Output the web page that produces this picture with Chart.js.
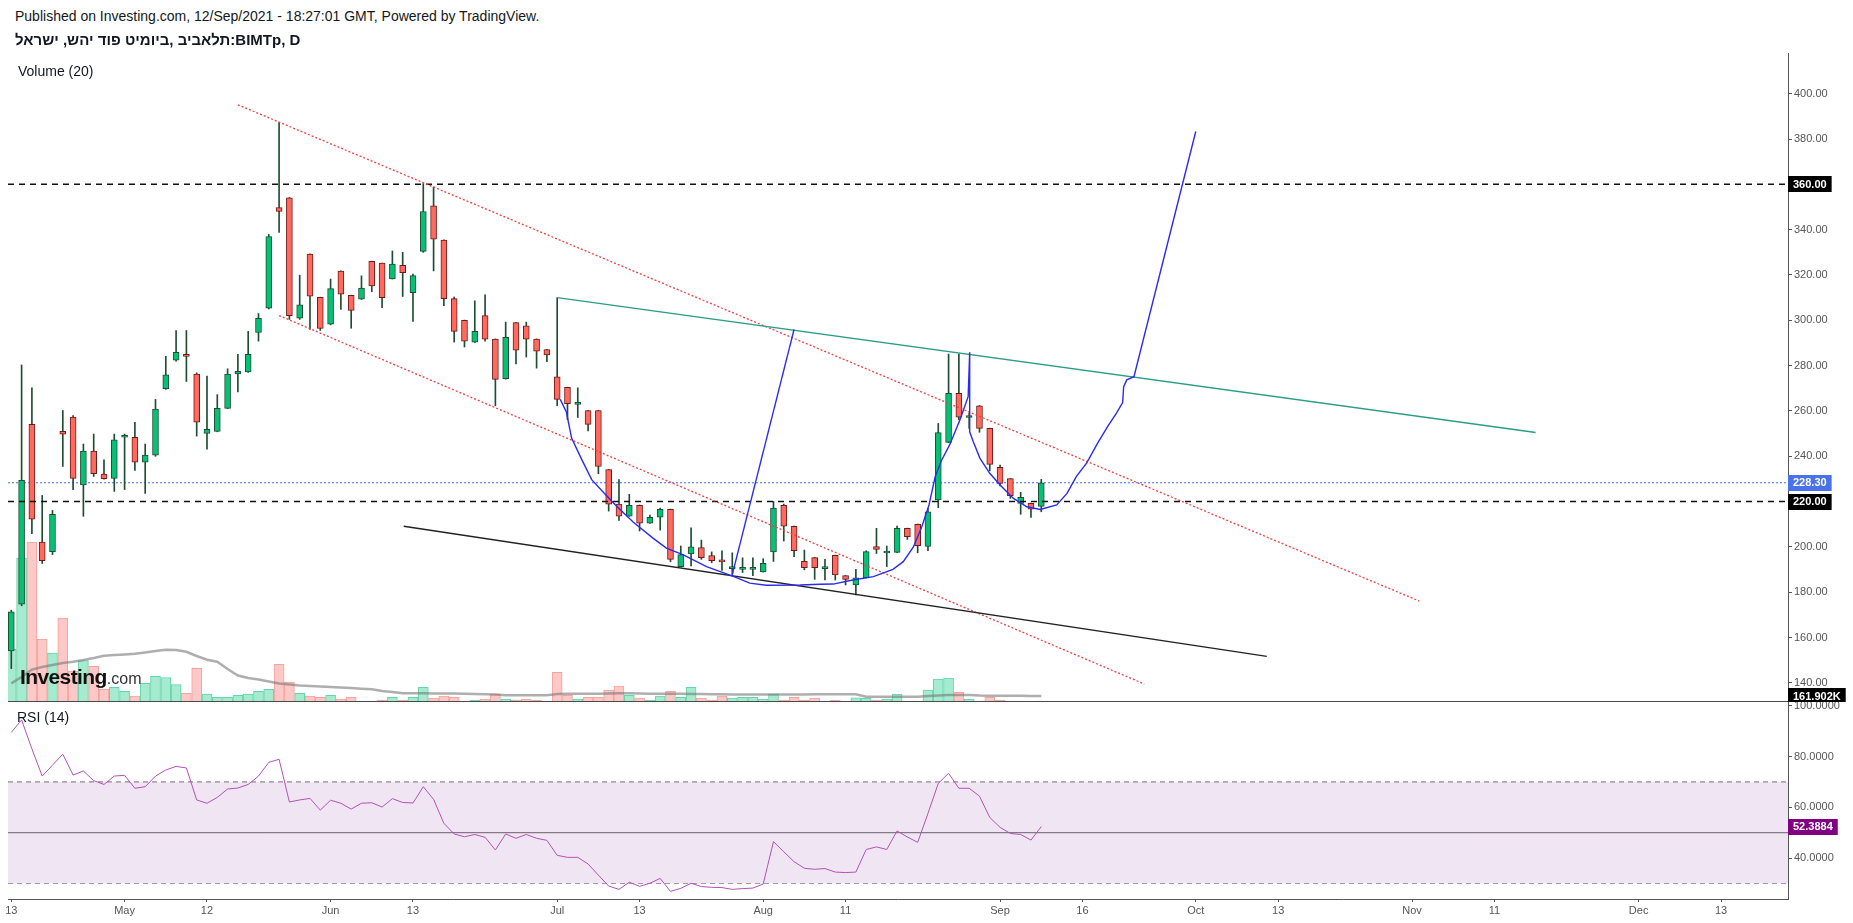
<!DOCTYPE html>
<html>
<head>
<meta charset="utf-8">
<title>BIMTp, D</title>
<script src="https://cdn.jsdelivr.net/npm/chart.js@4.4.1/dist/chart.umd.min.js"></script>
<style>
  html, body { margin: 0; padding: 0; background: #fff; }
  body { width: 1853px; height: 923px; position: relative; overflow: hidden;
         font-family: "Liberation Sans", Arial, "DejaVu Sans", sans-serif; color: #131722; }
  .txt { position: absolute; white-space: nowrap; z-index: 3; }
  #hdr1 { left: 15px; top: 8px; font-size: 14px; line-height: 16px; }
  #hdr2 { left: 15px; top: 31px; font-size: 15px; line-height: 17px; font-weight: bold; }
  #volTitle { left: 18px; top: 63px; font-size: 14px; line-height: 16px; }
  #rsiTitle { left: 17px; top: 709px; font-size: 14px; line-height: 16px; }
  #logo { left: 20px; top: 664px; line-height: 26px; }
  #logo b { font-size: 21px; letter-spacing: -0.6px; color: #111; }
  #logo span { font-size: 16px; color: #333; }
  #mainWrap { position: absolute; left: 0; top: 53px; width: 1853px; height: 649px; }
  #rsiWrap { position: absolute; left: 0; top: 702px; width: 1853px; height: 221px; }
  #sep { position: absolute; left: 8px; top: 701px; width: 1780px; height: 1px; background: #4a4a4a; z-index: 4; }
</style>
</head>
<body>
<div class="txt" id="hdr1">Published on Investing.com, 12/Sep/2021 - 18:27:01 GMT, Powered by TradingView.</div>
<div class="txt" id="hdr2"><span dir="rtl">ביומיט פוד יהש, ישראל</span>, <bdi>תלאביב</bdi>:BIMTp, D</div>
<div class="txt" id="volTitle">Volume (20)</div>
<div class="txt" id="rsiTitle">RSI (14)</div>
<div class="txt" id="logo"><b>Investing</b><span>.com</span></div>
<div id="mainWrap"><canvas id="mainChart" width="1853" height="649"></canvas></div>
<div id="rsiWrap"><canvas id="rsiChart" width="1853" height="221"></canvas></div>
<div id="sep"></div>

<script>
// daily bars from 13 Apr 2021 to 12 Sep 2021, x = bar index
const opens = [154.1, 174.7, 254.1, 202.1, 197.9, 251.0, 257.3, 227.4, 242.3, 232.1,
  230.2, 248.4, 248.4, 237.4, 240.5, 269.8, 282.4, 285.0, 276.3, 250.1,
  251.0, 261.1, 276.3, 277.2, 294.6, 305.3, 349.7, 354.1, 300.9, 329.2,
  310.1, 298.3, 321.7, 311.0, 309.3, 326.0, 325.2, 318.3, 324.3, 312.2,
  330.4, 350.5, 335.4, 309.6, 300.0, 290.3, 302.1, 291.7, 274.2, 299.0,
  297.6, 291.7, 287.1, 275.1, 270.4, 262.9, 260.2, 260.2, 234.1, 218.9,
  213.6, 218.4, 210.5, 213.1, 216.6, 191.3, 196.9, 199.7, 196.2, 193.6,
  190.4, 190.1, 190.1, 189.0, 197.8, 218.4, 209.1, 193.6, 195.3, 190.4,
  196.3, 187.3, 183.2, 186.4, 200.2, 197.3, 197.6, 208.2, 210.0, 200.2,
  220.7, 246.1, 267.8, 257.1, 262.3, 252.3, 235.1, 230.1, 219.2, 219.2, 217.9];
const highs = [172.1, 280.3, 270.2, 222.7, 216.1, 260.2, 258.0, 245.4, 249.8, 238.4,
  249.8, 249.8, 255.0, 245.4, 265.1, 284.1, 295.5, 295.5, 276.8, 275.4,
  267.2, 278.6, 285.0, 295.1, 303.0, 337.9, 387.3, 354.2, 319.9, 329.3,
  310.2, 318.2, 321.8, 311.1, 319.6, 326.1, 325.3, 330.6, 330.0, 320.4,
  360.4, 358.8, 335.5, 310.3, 300.1, 308.6, 311.2, 291.8, 299.2, 299.1,
  299.2, 291.8, 287.2, 310.0, 270.5, 270.2, 260.3, 260.3, 234.2, 229.7,
  223.2, 218.5, 214.0, 217.1, 216.7, 200.4, 208.4, 203.0, 197.8, 198.3,
  197.4, 195.2, 195.2, 194.8, 220.1, 218.9, 209.2, 198.6, 195.4, 194.5,
  196.4, 187.4, 190.1, 198.3, 208.2, 200.4, 209.2, 208.3, 210.1, 217.0,
  254.5, 285.1, 285.1, 259.0, 262.4, 252.4, 236.1, 230.2, 224.1, 219.3, 229.8];
const lows = [146.3, 174.0, 205.8, 192.7, 196.6, 235.5, 225.3, 213.5, 231.1, 229.9,
  224.5, 225.3, 233.7, 223.6, 240.0, 269.5, 282.0, 273.0, 248.9, 243.1,
  250.8, 261.0, 268.4, 277.0, 290.8, 305.0, 338.8, 300.4, 300.4, 296.0,
  295.5, 298.0, 304.8, 296.5, 309.2, 312.6, 305.6, 318.2, 310.5, 299.5,
  330.0, 321.8, 306.5, 290.4, 288.2, 290.2, 290.8, 262.3, 274.0, 280.7,
  283.8, 278.9, 281.7, 262.3, 256.2, 257.1, 251.2, 232.3, 215.8, 211.7,
  213.5, 207.0, 210.4, 207.4, 193.4, 191.2, 191.6, 194.5, 193.0, 189.6,
  187.8, 188.7, 187.3, 188.9, 193.6, 202.6, 195.7, 189.9, 185.7, 185.4,
  185.4, 183.2, 178.8, 186.3, 197.1, 191.3, 197.5, 203.3, 197.4, 198.3,
  217.3, 246.0, 256.0, 252.3, 250.6, 233.6, 226.9, 221.4, 214.4, 213.0, 215.5];
const closes = [171.3, 229.4, 212.2, 193.9, 214.4, 249.8, 230.2, 242.3, 232.3, 230.1,
  247.2, 248.8, 237.4, 240.5, 260.8, 275.9, 285.9, 284.1, 255.0, 251.9,
  261.1, 276.3, 277.5, 285.0, 300.9, 337.0, 348.0, 302.1, 306.8, 310.7,
  296.4, 314.0, 311.5, 304.4, 314.2, 315.2, 310.0, 324.8, 321.0, 319.7,
  348.0, 335.8, 309.6, 295.1, 290.8, 295.1, 291.7, 273.9, 292.5, 286.8,
  291.7, 286.4, 284.7, 265.1, 263.2, 263.0, 254.1, 235.5, 218.9, 213.6,
  218.4, 210.5, 213.1, 216.6, 194.5, 196.6, 200.0, 195.2, 193.9, 193.4,
  190.6, 191.0, 191.0, 192.7, 217.1, 209.1, 198.3, 190.8, 190.8, 190.6,
  187.6, 185.7, 186.4, 197.9, 198.9, 197.5, 208.2, 204.5, 200.5, 215.5,
  250.4, 267.8, 257.2, 257.3, 252.3, 236.4, 228.0, 222.6, 221.9, 216.6, 228.3];
// volume in thousands
const volumes = [1432, 3892, 4324, 1703, 1324, 2270, 838, 1122, 962, 343,
  395, 289, 159, 503, 695, 662, 470, 235, 908, 214,
  127, 127, 181, 214, 289, 343, 1016, 535, 235, 159,
  127, 181, 76, 127, 22, 22, 54, 127, 54, 127,
  395, 108, 159, 127, 22, 54, 76, 214, 76, 54,
  76, 54, 22, 803, 181, 76, 127, 127, 322, 427,
  181, 108, 54, 159, 289, 127, 395, 108, 54, 159,
  108, 127, 127, 76, 214, 54, 127, 54, 108, 27,
  54, 14, 116, 100, 54, 81, 216, 27, 27, 324,
  622, 649, 262, 81, 27, 127, 54, 27, 27, 14, 27];
const volumeMA = [503, 676, 876, 946, 1000, 1054, 1089, 1135, 1189, 1251,
  1270, 1284, 1303, 1338, 1379, 1411, 1406, 1357, 1243, 1143,
  1089, 892, 716, 649, 608, 554, 503, 473, 449, 432,
  419, 405, 395, 378, 360, 343, 297, 270, 235, 235,
  235, 230, 230, 230, 224, 216, 211, 203, 185, 185,
  185, 185, 185, 215, 220, 220, 225, 225, 230, 235,
  235, 230, 225, 225, 220, 220, 215, 215, 210, 210,
  205, 205, 205, 200, 200, 200, 205, 205, 208, 208,
  208, 208, 208, 143, 143, 143, 143, 143, 143, 162,
  176, 189, 189, 189, 175, 172, 170, 168, 166, 164, 162];
const rsi = [89.5, 94.4, 83.0, 72.3, 76.6, 80.9, 72.7, 74.3, 70.5, 69.0,
  72.3, 72.6, 67.5, 68.1, 72.3, 74.7, 76.1, 75.5, 62.9, 61.6,
  63.9, 67.2, 67.6, 69.0, 72.3, 77.7, 78.9, 62.1, 62.9, 63.5,
  58.9, 62.8, 61.6, 59.3, 61.6, 61.8, 60.1, 63.4, 61.9, 61.7,
  68.1, 63.1, 53.7, 49.5, 48.4, 49.3, 48.2, 43.2, 49.5, 47.8,
  49.3, 47.8, 47.0, 41.1, 40.3, 40.3, 37.7, 33.3, 29.0, 27.7,
  30.5, 28.9, 30.1, 32.0, 26.9, 28.1, 30.1, 28.8, 28.5, 28.4,
  27.7, 28.0, 28.2, 29.8, 46.5, 42.5, 38.6, 36.0, 35.6, 35.9,
  34.5, 34.3, 34.5, 43.4, 44.4, 43.4, 50.7, 48.3, 46.2, 57.6,
  69.4, 73.4, 67.5, 67.5, 64.4, 56.0, 52.1, 49.7, 49.3, 47.1, 52.39];

// date axis: bar index of each label
const xTickIdx = [0, 11, 19, 31, 39, 53, 61, 73, 81, 96, 104, 115, 123, 136, 144, 158, 166];
const xTickLabels = ['13', 'May', '12', 'Jun', '13', 'Jul', '13', 'Aug', '11', 'Sep', '16',
  'Oct', '13', 'Nov', '11', 'Dec', '13'];
const priceTicks = [140, 160, 180, 200, 220, 240, 260, 280, 300, 320, 340, 360, 380, 400];
const rsiTicks = [40, 60, 80, 100];

// drawn levels and trend lines (bar index, price)
const hLevels = [360, 220];
const lastPrice = 228.3;
const lastVolume = 161.902;
const lastRsi = 52.3884;
const upperChannelX = [22.0, 136.7], upperChannelY = [395.1, 176.1];
const lowerChannelX = [26.0, 110.0], lowerChannelY = [302.1, 139.5];
const resistanceX = [53.0, 148.0], resistanceY = [310.0, 250.5];
const supportX = [38.1, 121.9], supportY = [209.1, 151.7];
const measureX = [70.0, 76.0], measureY = [187.8, 296.0];
const cupX = [53.3, 53.9, 54.4, 55.4, 56.35, 57.5, 58.8, 60.4, 62.3, 63.6, 65.2, 67.5, 70.1, 71.7,
  73.3, 76.6, 78.5, 79.8, 81.7, 83.7, 85.6, 86.6, 87.6, 88.4, 89.1, 89.7, 90.3, 91.1, 92.1,
  92.9, 93.05, 93.05, 93.4, 94.05, 95.0, 96.0, 97.3, 98.6, 99.9, 101.5, 102.5, 103.4, 104.4,
  105.5, 106.5, 107.3, 107.9, 108.0, 108.3, 109.0, 115.0];
const cupY = [265.1, 259.4, 248.0, 238.4, 229.7, 224.0, 217.8, 210.9, 203.9, 199.5, 196.6, 191.3, 187.0, 184.0,
  183.1, 183.2, 183.5, 183.6, 185.4, 186.9, 190.1, 193.5, 200.1, 208.9, 218.5, 231.0, 238.0, 245.0, 256.0,
  266.3, 285.9, 250.8, 246.4, 239.1, 232.5, 227.3, 221.4, 217.7, 216.5, 218.5, 223.6, 231.0, 237.0,
  246.0, 253.5, 259.0, 263.7, 270.7, 273.7, 275.1, 383.3];

const X_MIN = -0.32, X_MAX = 172.5;
const AXIS_W = 65;
const FONT = '"Liberation Sans", Arial, sans-serif';

const idx = opens.map((_, i) => i);
const up = closes.map((c, i) => c >= opens[i]);
const pts = (xs, ys) => xs.map((x, k) => ({ x: x, y: ys[k] }));
const flat = v => [{ x: X_MIN, y: v }, { x: X_MAX, y: v }];

function line(data, color, width, dash, order, axis) {
  return {
    type: 'line', data: data, borderColor: color, borderWidth: width, borderDash: dash || [],
    pointRadius: 0, tension: 0, fill: false, order: order, yAxisID: axis || 'y'
  };
}

// badges on the right price axis
const badgePlugin = {
  id: 'badges',
  afterDraw(chart, args, opts) {
    const ctx = chart.ctx;
    const x0 = chart.chartArea.right;
    ctx.save();
    ctx.font = 'bold 11px ' + FONT;
    ctx.textBaseline = 'middle';
    opts.items.forEach(b => {
      const y = chart.scales[b.axis].getPixelForValue(b.value);
      const w = ctx.measureText(b.text).width + 10;
      ctx.fillStyle = b.bg;
      ctx.fillRect(x0, Math.round(y) - 8, w, 16);
      ctx.fillStyle = '#fff';
      ctx.fillText(b.text, x0 + 5, y + 0.5);
    });
    ctx.restore();
  }
};

// keep the plot area exactly where the panes are: fixed axis width, no label padding
const fixedY = axis => { axis.width = AXIS_W; axis.paddingTop = 0; axis.paddingBottom = 0; };
const fixedX = axis => { axis.height = 24; axis.paddingLeft = 0; axis.paddingRight = 0; };

const mainChart = new Chart(document.getElementById('mainChart'), {
  type: 'bar',
  data: {
    datasets: [
      // volume
      {
        data: pts(idx, volumes), yAxisID: 'yv', order: 30, barThickness: 10, grouped: false,
        backgroundColor: up.map(u => u ? '#a6ebd0' : '#fdc8c5'),
        borderColor: up.map(u => u ? '#5fd7a6' : '#f6a29d'),
        borderWidth: 1, borderSkipped: 'start'
      },
      line(pts(idx, volumeMA), 'rgba(120,120,120,0.6)', 2.5, [], 29, 'yv'),
      line(flat(lastPrice), '#3d6cf0', 1, [2, 2], 25),
      // wicks
      {
        data: idx.map(i => ({ x: i, y: [lows[i], highs[i]] })), order: 12, barThickness: 1, grouped: false,
        backgroundColor: '#1f4d33', borderWidth: 0
      },
      // bodies
      {
        data: idx.map(i => ({ x: i, y: [opens[i], closes[i]] })), order: 11, barThickness: 6, grouped: false,
        minBarLength: 2,
        backgroundColor: up.map(u => u ? '#05c176' : '#ff695e'),
        borderColor: up.map(u => u ? '#1f4d33' : '#6e1a1a'),
        borderWidth: 1, borderSkipped: false
      },
      line(flat(hLevels[0]), '#111', 1.5, [6, 5], 8),
      line(flat(hLevels[1]), '#111', 1.5, [6, 5], 8),
      line(pts(upperChannelX, upperChannelY), '#ec3f3f', 1.3, [2, 2], 6),
      line(pts(lowerChannelX, lowerChannelY), '#ec3f3f', 1.3, [2, 2], 6),
      line(pts(resistanceX, resistanceY), '#2a9d84', 1.4, [], 5),
      line(pts(supportX, supportY), '#222', 1.4, [], 5),
      line(pts(measureX, measureY), '#2b2bf0', 1.4, [], 4),
      line(pts(cupX, cupY), '#2b2bf0', 1.4, [], 4)
    ]
  },
  options: {
    responsive: false, animation: false, devicePixelRatio: 1,
    layout: { padding: { left: 8, right: 0, top: 0, bottom: 0 } },
    plugins: {
      legend: { display: false }, tooltip: { enabled: false },
      badges: {
        items: [
          { axis: 'y', value: hLevels[0], text: hLevels[0].toFixed(2), bg: '#000' },
          { axis: 'y', value: lastPrice, text: lastPrice.toFixed(2), bg: '#4a72e8' },
          { axis: 'y', value: hLevels[1], text: hLevels[1].toFixed(2), bg: '#000' },
          { axis: 'yv', value: lastVolume, text: lastVolume.toFixed(3) + 'K', bg: '#000' }
        ]
      }
    },
    scales: {
      x: { type: 'linear', min: X_MIN, max: X_MAX, offset: false, display: false },
      y: {
        position: 'right', min: 131.56, max: 417.96, afterFit: fixedY,
        afterBuildTicks: axis => { axis.ticks = priceTicks.map(v => ({ value: v })); },
        grid: { drawOnChartArea: false, drawTicks: true, tickLength: 4, color: '#555' },
        border: { display: true, color: '#555', width: 1 },
        ticks: { padding: 2, color: '#555', font: { family: FONT, size: 11 }, callback: v => v.toFixed(2) }
      },
      yv: { display: false, min: 0, max: 17540 }
    }
  },
  plugins: [badgePlugin]
});

const rsiChart = new Chart(document.getElementById('rsiChart'), {
  type: 'line',
  data: {
    datasets: [
      {
        data: flat(70), borderColor: '#7d6a7d', borderWidth: 1, borderDash: [5, 4], pointRadius: 0,
        fill: '+1', backgroundColor: 'rgba(235,220,238,0.75)', order: 5
      },
      { data: flat(30), borderColor: '#7d6a7d', borderWidth: 1, borderDash: [5, 4], pointRadius: 0, fill: false, order: 5 },
      { data: flat(50), borderColor: '#6d5f6d', borderWidth: 1, pointRadius: 0, fill: false, order: 4 },
      { data: pts(idx, rsi), borderColor: '#b052b8', borderWidth: 1, pointRadius: 0, tension: 0, fill: false, order: 1 }
    ]
  },
  options: {
    responsive: false, animation: false, devicePixelRatio: 1,
    layout: { padding: { left: 8, right: 0, top: 0, bottom: 0 } },
    plugins: {
      legend: { display: false }, tooltip: { enabled: false },
      badges: { items: [{ axis: 'y', value: lastRsi, text: lastRsi.toFixed(4), bg: '#800080' }] }
    },
    scales: {
      x: {
        type: 'linear', min: X_MIN, max: X_MAX, offset: false, afterFit: fixedX,
        afterBuildTicks: axis => { axis.ticks = xTickIdx.map(v => ({ value: v })); },
        grid: { drawOnChartArea: false, drawTicks: true, tickLength: 3, color: '#555' },
        border: { display: true, color: '#555', width: 1 },
        ticks: {
          autoSkip: false, maxRotation: 0, padding: 2, color: '#555', font: { family: FONT, size: 11 },
          callback: (v, i) => xTickLabels[i]
        }
      },
      y: {
        position: 'right', min: 23.9, max: 101.46, afterFit: fixedY,
        afterBuildTicks: axis => { axis.ticks = rsiTicks.map(v => ({ value: v })); },
        grid: { drawOnChartArea: false, drawTicks: true, tickLength: 4, color: '#555' },
        border: { display: true, color: '#555', width: 1 },
        ticks: { padding: 2, color: '#555', font: { family: FONT, size: 11 }, callback: v => v.toFixed(4) }
      }
    }
  },
  plugins: [badgePlugin]
});
</script>
</body>
</html>
